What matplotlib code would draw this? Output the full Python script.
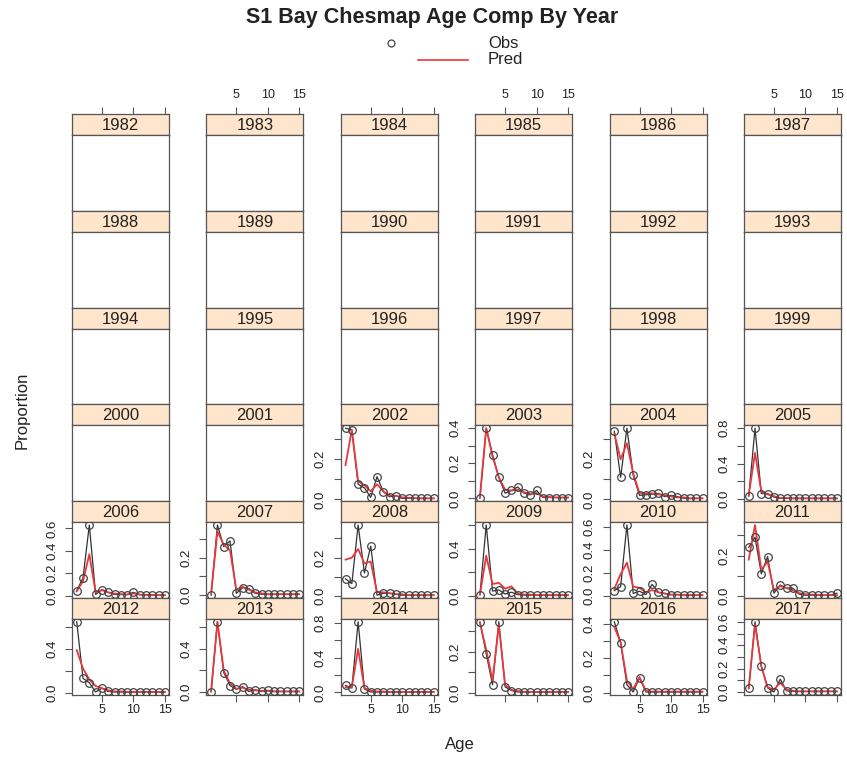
import numpy as np
import matplotlib
matplotlib.use("Agg")
import matplotlib.pyplot as plt

plt.rcParams["font.family"] = ["Liberation Sans", "DejaVu Sans"]

ages = list(range(1, 16))
years = list(range(1982, 2018))

obs_2002 = [0.353, 0.345, 0.075, 0.057, 0.01, 0.113, 0.038, 0.013, 0.019, 0.005, 0.005, 0.005, 0.005, 0.005, 0.005]
pred_2002 = [0.17, 0.345, 0.09, 0.07, 0.04, 0.075, 0.04, 0.02, 0.018, 0.01, 0.008, 0.006, 0.005, 0.005, 0.005]
obs_2003 = [0.0, 0.40, 0.25, 0.12, 0.03, 0.045, 0.065, 0.03, 0.02, 0.045, 0.005, 0.005, 0.005, 0.005, 0.005]
pred_2003 = [0.01, 0.40, 0.24, 0.12, 0.05, 0.045, 0.05, 0.035, 0.025, 0.03, 0.01, 0.008, 0.005, 0.005, 0.005]
obs_2004 = [0.34, 0.11, 0.355, 0.12, 0.02, 0.023, 0.026, 0.03, 0.014, 0.02, 0.014, 0.005, 0.005, 0.005, 0.005]
pred_2004 = [0.33, 0.20, 0.28, 0.13, 0.03, 0.03, 0.03, 0.025, 0.02, 0.015, 0.01, 0.01, 0.005, 0.005, 0.005]
obs_2005 = [0.03, 0.80, 0.06, 0.06, 0.02, 0.005, 0.005, 0.005, 0.005, 0.005, 0.005, 0.005, 0.005, 0.005, 0.005]
pred_2005 = [0.04, 0.52, 0.08, 0.05, 0.03, 0.01, 0.01, 0.005, 0.005, 0.005, 0.005, 0.005, 0.005, 0.005, 0.005]
obs_2006 = [0.045, 0.16, 0.63, 0.012, 0.055, 0.03, 0.012, 0.01, 0.01, 0.03, 0.01, 0.01, 0.008, 0.005, 0.005]
pred_2006 = [0.04, 0.13, 0.37, 0.03, 0.05, 0.03, 0.02, 0.015, 0.012, 0.02, 0.01, 0.008, 0.005, 0.005, 0.005]
obs_2007 = [0.0, 0.375, 0.26, 0.29, 0.01, 0.04, 0.035, 0.01, 0.005, 0.005, 0.005, 0.005, 0.005, 0.005, 0.005]
pred_2007 = [0.01, 0.34, 0.27, 0.24, 0.03, 0.045, 0.03, 0.015, 0.01, 0.005, 0.005, 0.005, 0.005, 0.005, 0.005]
obs_2008 = [0.09, 0.065, 0.37, 0.12, 0.26, 0.005, 0.015, 0.015, 0.01, 0.005, 0.005, 0.005, 0.005, 0.005, 0.005]
pred_2008 = [0.19, 0.20, 0.245, 0.17, 0.18, 0.02, 0.02, 0.015, 0.01, 0.01, 0.005, 0.005, 0.005, 0.005, 0.005]
obs_2009 = [0.01, 0.60, 0.04, 0.05, 0.015, 0.03, 0.01, 0.005, 0.005, 0.005, 0.005, 0.005, 0.005, 0.005, 0.005]
pred_2009 = [0.01, 0.34, 0.10, 0.11, 0.06, 0.08, 0.02, 0.01, 0.01, 0.005, 0.005, 0.005, 0.005, 0.005, 0.005]
obs_2010 = [0.045, 0.08, 0.62, 0.02, 0.04, 0.01, 0.10, 0.03, 0.02, 0.01, 0.01, 0.005, 0.005, 0.005, 0.005]
pred_2010 = [0.06, 0.19, 0.29, 0.08, 0.07, 0.03, 0.05, 0.03, 0.02, 0.01, 0.01, 0.005, 0.005, 0.005, 0.005]
obs_2011 = [0.24, 0.29, 0.11, 0.195, 0.015, 0.055, 0.04, 0.04, 0.01, 0.005, 0.005, 0.005, 0.005, 0.005, 0.015]
pred_2011 = [0.18, 0.35, 0.13, 0.17, 0.03, 0.05, 0.04, 0.03, 0.015, 0.01, 0.008, 0.006, 0.005, 0.005, 0.005]
obs_2012 = [0.65, 0.13, 0.09, 0.005, 0.04, 0.01, 0.005, 0.005, 0.005, 0.005, 0.005, 0.005, 0.005, 0.005, 0.005]
pred_2012 = [0.39, 0.22, 0.12, 0.06, 0.04, 0.02, 0.01, 0.01, 0.005, 0.005, 0.005, 0.005, 0.005, 0.005, 0.005]
obs_2013 = [0.0, 0.65, 0.18, 0.06, 0.025, 0.05, 0.005, 0.02, 0.005, 0.015, 0.005, 0.005, 0.005, 0.005, 0.005]
pred_2013 = [0.01, 0.65, 0.20, 0.08, 0.03, 0.04, 0.02, 0.015, 0.01, 0.01, 0.005, 0.005, 0.005, 0.005, 0.005]
obs_2014 = [0.08, 0.05, 0.81, 0.04, 0.005, 0.005, 0.005, 0.005, 0.005, 0.005, 0.005, 0.005, 0.005, 0.005, 0.005]
pred_2014 = [0.06, 0.06, 0.50, 0.05, 0.02, 0.01, 0.01, 0.005, 0.005, 0.005, 0.005, 0.005, 0.005, 0.005, 0.005]
obs_2015 = [0.345, 0.19, 0.04, 0.345, 0.03, 0.012, 0.005, 0.005, 0.005, 0.005, 0.005, 0.005, 0.005, 0.005, 0.005]
pred_2015 = [0.34, 0.21, 0.06, 0.33, 0.04, 0.015, 0.01, 0.005, 0.005, 0.005, 0.005, 0.005, 0.005, 0.005, 0.005]
obs_2016 = [0.41, 0.29, 0.045, 0.003, 0.085, 0.003, 0.003, 0.003, 0.003, 0.003, 0.003, 0.003, 0.003, 0.003, 0.003]
pred_2016 = [0.38, 0.29, 0.07, 0.02, 0.09, 0.01, 0.005, 0.005, 0.005, 0.005, 0.005, 0.005, 0.005, 0.005, 0.005]
obs_2017 = [0.03, 0.60, 0.22, 0.035, 0.0, 0.11, 0.01, 0.005, 0.005, 0.005, 0.005, 0.005, 0.005, 0.005, 0.005]
pred_2017 = [0.03, 0.58, 0.22, 0.04, 0.02, 0.08, 0.02, 0.01, 0.005, 0.005, 0.005, 0.005, 0.005, 0.005, 0.005]

obs = {2002: obs_2002, 2003: obs_2003, 2004: obs_2004, 2005: obs_2005,
       2006: obs_2006, 2007: obs_2007, 2008: obs_2008, 2009: obs_2009,
       2010: obs_2010, 2011: obs_2011, 2012: obs_2012, 2013: obs_2013,
       2014: obs_2014, 2015: obs_2015, 2016: obs_2016, 2017: obs_2017}
pred = {2002: pred_2002, 2003: pred_2003, 2004: pred_2004, 2005: pred_2005,
        2006: pred_2006, 2007: pred_2007, 2008: pred_2008, 2009: pred_2009,
        2010: pred_2010, 2011: pred_2011, 2012: pred_2012, 2013: pred_2013,
        2014: pred_2014, 2015: pred_2015, 2016: pred_2016, 2017: pred_2017}

# y tick spacing and which ticks get a label, per year
ytick_step = {2002: 0.1, 2003: 0.1, 2004: 0.1, 2005: 0.2, 2006: 0.2, 2007: 0.1,
              2008: 0.1, 2009: 0.2, 2010: 0.2, 2011: 0.1, 2012: 0.2, 2013: 0.2,
              2014: 0.2, 2015: 0.1, 2016: 0.1, 2017: 0.1}
ylabel_step = {2002: 0.2, 2003: 0.2, 2004: 0.2, 2005: 0.4, 2006: 0.2, 2007: 0.2,
               2008: 0.2, 2009: 0.4, 2010: 0.2, 2011: 0.2, 2012: 0.4, 2013: 0.4,
               2014: 0.4, 2015: 0.2, 2016: 0.2, 2017: 0.2}
xticks = [5, 10, 15]

W, H = 847, 757
fig = plt.figure(figsize=(W / 100, H / 100), dpi=100)

edge = "#555555"
txt = "#222222"
red = "#e8383d"


def px_axes(left, top, w, h):
    return fig.add_axes([left / W, 1 - (top + h) / H, w / W, h / H])


col_left, col_pitch, panel_w = 72, 134.4, 97
row_top, row_pitch, strip_h = 114, 96.8, 21
xlim = (0.25, 15.65)

for k, year in enumerate(years):
    r, c = divmod(k, 6)
    left = col_left + c * col_pitch
    top = row_top + r * row_pitch

    sax = px_axes(left, top, panel_w, strip_h)
    sax.set_facecolor("#ffe5cc")
    sax.set_xlim(xlim)
    sax.set_yticks([])
    sax.text(0.5, 0.45, str(year), transform=sax.transAxes, ha="center",
             va="center", fontsize=12, color=txt)
    for sp in sax.spines.values():
        sp.set_color(edge)
        sp.set_linewidth(0.9)
    if r == 0:
        sax.set_xticks(xticks)
        sax.tick_params(axis="x", top=True, bottom=False, labeltop=(c % 2 == 1),
                        labelbottom=False, length=5, width=0.8, color=edge,
                        labelsize=9, labelcolor=txt, pad=4)
    else:
        sax.set_xticks([])

    ax = px_axes(left, top + strip_h, panel_w, row_pitch - strip_h)
    ax.set_xlim(xlim)
    for sp in ax.spines.values():
        sp.set_color(edge)
        sp.set_linewidth(0.9)
    if r == 5:
        ax.set_xticks(xticks)
        ax.tick_params(axis="x", length=5, width=0.8, color=edge, labelsize=9,
                       labelcolor=txt, pad=1.5, labelbottom=(c % 2 == 0))
    else:
        ax.set_xticks([])

    if year in obs:
        o = np.array(obs[year])
        p = np.array(pred[year])
        lo = min(o.min(), p.min())
        hi = max(o.max(), p.max())
        pad = 0.04 * (hi - lo)
        ax.set_ylim(lo - pad, hi + pad)
        step = ytick_step[year]
        n = int(np.floor((hi + pad) / step + 1e-6))
        ticks = [round(i * step, 6) for i in range(n + 1)]
        every = int(round(ylabel_step[year] / step))
        labs = [f"{t:.1f}" if i % every == 0 else "" for i, t in enumerate(ticks)]
        ax.set_yticks(ticks)
        ax.set_yticklabels(labs)
        ax.tick_params(axis="y", length=5, width=0.8, color=edge, labelsize=9.5,
                       labelcolor=txt, labelrotation=90, pad=5)
        for lab in ax.get_yticklabels():
            lab.set_va("center")

        ax.plot(ages, o, color="#333333", lw=0.9, zorder=2)
        ax.plot(ages, p, color=red, lw=1.3, zorder=3)
        ax.plot(ages, o, ls="none", marker="o", ms=5.5, mfc="none",
                mec="#444444", mew=0.9, zorder=4)
    else:
        ax.set_yticks([])

fig.text(432 / W, 1 - 18 / H, "S1 Bay Chesmap Age Comp By Year", ha="center",
         va="center", fontsize=15.5, fontweight="bold", color=txt)

# key
kax = px_axes(0, 0, W, H)
kax.set_xlim(0, W)
kax.set_ylim(H, 0)
kax.axis("off")
kax.plot([391], [43], ls="none", marker="o", ms=5, mfc="none", mec="#444444", mew=0.9)
kax.plot([418, 468], [60, 60], color=red, lw=1.2)
kax.text(488, 43, "Obs", fontsize=12, va="center", ha="left", color=txt)
kax.text(488, 60, "Pred", fontsize=12, va="center", ha="left", color=txt)

fig.text(460 / W, 1 - 745 / H, "Age", ha="center", va="center", fontsize=12, color=txt)
fig.text(22 / W, 1 - 410 / H, "Proportion", ha="center", va="center", fontsize=12,
         rotation=90, color=txt)

fig.savefig("out.png", dpi=100)
